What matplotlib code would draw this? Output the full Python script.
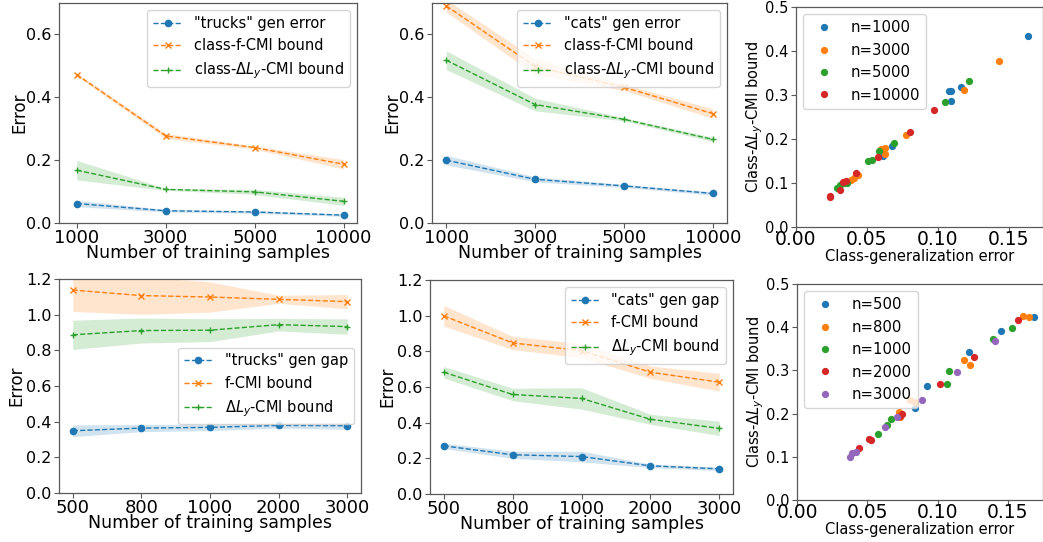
import matplotlib.pyplot as plt
import numpy as np

# top row: class-level results (x = number of training samples)
n_top = [1000, 3000, 5000, 10000]
trucks_err = [0.062, 0.039, 0.035, 0.025]
trucks_err_sd = [0.010, 0.004, 0.004, 0.004]
trucks_fcmi = [0.472, 0.277, 0.240, 0.187]
trucks_fcmi_sd = [0.005, 0.008, 0.005, 0.015]
trucks_dl = [0.168, 0.107, 0.099, 0.069]
trucks_dl_sd = [0.031, 0.003, 0.008, 0.013]

cats_err = [0.200, 0.139, 0.118, 0.094]
cats_err_sd = [0.015, 0.008, 0.005, 0.005]
cats_fcmi = [0.691, 0.498, 0.432, 0.348]
cats_fcmi_sd = [0.020, 0.025, 0.010, 0.015]
cats_dl = [0.518, 0.377, 0.330, 0.266]
cats_dl_sd = [0.030, 0.020, 0.005, 0.007]

# bottom row
n_bot = [500, 800, 1000, 2000, 3000]
trucks_gap = [0.349, 0.364, 0.368, 0.379, 0.377]
trucks_gap_sd = [0.033, 0.020, 0.018, 0.015, 0.020]
trucks_fcmi2 = [1.138, 1.107, 1.099, 1.086, 1.073]
trucks_fcmi2_sd = [0.120, 0.105, 0.085, 0.023, 0.040]
trucks_dl2 = [0.887, 0.911, 0.913, 0.944, 0.933]
trucks_dl2_sd = [0.082, 0.070, 0.064, 0.035, 0.043]

cats_gap = [0.270, 0.220, 0.210, 0.158, 0.141]
cats_gap_sd = [0.015, 0.020, 0.030, 0.010, 0.010]
cats_fcmi2 = [0.999, 0.847, 0.804, 0.683, 0.627]
cats_fcmi2_sd = [0.058, 0.037, 0.040, 0.035, 0.050]
cats_dl2 = [0.683, 0.558, 0.536, 0.419, 0.368]
cats_dl2_sd = [0.032, 0.035, 0.060, 0.028, 0.040]

# scatter: (class-generalization error, class-dLy-CMI bound)
sc_top_labels = ['n=1000', 'n=3000', 'n=5000', 'n=10000']
sc_top_x = [
    [0.1637, 0.1094, 0.108, 0.116, 0.109, 0.0673, 0.061, 0.061],
    [0.143, 0.118, 0.0775, 0.0626, 0.063, 0.060, 0.0439, 0.041, 0.0385, 0.036],
    [0.1217, 0.105, 0.0692, 0.0586, 0.0534, 0.0508, 0.036, 0.0307, 0.029, 0.034],
    [0.0971, 0.0803, 0.0581, 0.0425, 0.035, 0.033, 0.0307, 0.0243, 0.024],
]
sc_top_y = [
    [0.435, 0.310, 0.310, 0.318, 0.287, 0.185, 0.167, 0.161],
    [0.378, 0.312, 0.209, 0.180, 0.167, 0.177, 0.118, 0.112, 0.106, 0.103],
    [0.331, 0.283, 0.191, 0.173, 0.152, 0.151, 0.099, 0.095, 0.089, 0.100],
    [0.267, 0.217, 0.158, 0.123, 0.104, 0.103, 0.085, 0.070, 0.068],
]

sc_bot_labels = ['n=500', 'n=800', 'n=1000', 'n=2000', 'n=3000']
sc_bot_x = [
    [0.1685, 0.1448, 0.1227, 0.0926, 0.0836],
    [0.1607, 0.165, 0.1187, 0.1234, 0.0807, 0.0838, 0.0724, 0.0736],
    [0.1531, 0.1393, 0.108, 0.107, 0.0669, 0.064, 0.0574],
    [0.1574, 0.126, 0.1014, 0.0748, 0.0736, 0.0529, 0.0515, 0.044],
    [0.1412, 0.114, 0.089, 0.0712, 0.0629, 0.0422, 0.039, 0.0378],
]
sc_bot_y = [
    [0.424, 0.391, 0.342, 0.264, 0.214],
    [0.427, 0.423, 0.324, 0.313, 0.231, 0.226, 0.204, 0.193],
    [0.397, 0.373, 0.299, 0.268, 0.1875, 0.174, 0.153],
    [0.417, 0.332, 0.268, 0.199, 0.195, 0.140, 0.142, 0.121],
    [0.369, 0.296, 0.231, 0.193, 0.168, 0.112, 0.108, 0.100],
]

W, H = 1043, 542
fig = plt.figure(figsize=(W / 100, H / 100), dpi=100)


def box(x0, y0, x1, y1):
    # pixel box (left, top, right, bottom) -> figure fraction
    return fig.add_axes([x0 / W, 1 - y1 / H, (x1 - x0) / W, (y1 - y0) / H])


def style(ax):
    for s in ax.spines.values():
        s.set_color('0.35')
        s.set_linewidth(0.9)
    ax.tick_params(color='0.35')


def line_panel(ax, ns, series, labels, ylim, xlim, yticks, legend_loc, xpad, ypad):
    x = np.arange(len(ns))
    markers = ['o', 'x', '+']
    colors = ['C0', 'C1', 'C2']
    for (m, sd), lab, mk, c in zip(series, labels, markers, colors):
        m = np.array(m)
        sd = np.array(sd)
        ax.plot(x, m, '--', marker=mk, color=c, lw=1.0, ms=4.5 if mk == 'o' else 5,
                label=lab)
        ax.fill_between(x, m - sd, m + sd, color=c, alpha=0.2, lw=0)
    ax.set_xticks(x)
    ax.set_xticklabels([str(n) for n in ns])
    ax.set_yticks(yticks)
    ax.set_xlim(*xlim)
    ax.set_ylim(*ylim)
    ax.set_xlabel('Number of training samples', fontsize=12.5, labelpad=xpad)
    ax.set_ylabel('Error', fontsize=12, labelpad=ypad)
    ax.tick_params(axis='x', labelsize=13, pad=0.5)
    ax.tick_params(axis='y', labelsize=11.5, pad=2)
    ax.legend(loc=legend_loc, fontsize=10.5)
    style(ax)


def scatter_panel(ax, xs, ys, labels, xlim):
    for i, (sx, sy, lab) in enumerate(zip(xs, ys, labels)):
        ax.plot(sx, sy, 'o', ls='none', ms=4.2, color='C%d' % i, label=lab)
    ax.set_xlim(*xlim)
    ax.set_ylim(0, 0.5)
    ax.set_xticks([0.0, 0.05, 0.10, 0.15])
    ax.set_yticks([0.0, 0.1, 0.2, 0.3, 0.4, 0.5])
    ax.set_xlabel('Class-generalization error', fontsize=10.5, labelpad=0)
    ax.set_ylabel('Class-$\\Delta L_y$-CMI bound', fontsize=10.5, labelpad=0)
    ax.tick_params(axis='x', labelsize=13.5, pad=-1)
    ax.tick_params(axis='y', labelsize=10.5, pad=2)
    ax.legend(loc='upper left', fontsize=10.7, numpoints=1)
    style(ax)


ax1 = box(59, 3, 357, 223)
line_panel(ax1, n_top,
           [(trucks_err, trucks_err_sd), (trucks_fcmi, trucks_fcmi_sd), (trucks_dl, trucks_dl_sd)],
           ['"trucks" gen error', 'class-f-CMI bound', 'class-$\\Delta L_y$-CMI bound'],
           (0, 0.7), (-0.2, 3.15), [0, 0.2, 0.4, 0.6], 'upper right', -1.5, -2)

ax2 = box(432, 3, 727, 223)
line_panel(ax2, n_top,
           [(cats_err, cats_err_sd), (cats_fcmi, cats_fcmi_sd), (cats_dl, cats_dl_sd)],
           ['"cats" gen error', 'class-f-CMI bound', 'class-$\\Delta L_y$-CMI bound'],
           (0, 0.7), (-0.16, 3.16), [0, 0.2, 0.4, 0.6], 'upper right', -1.5, -2)

ax3 = box(796, 7, 1043, 227)
scatter_panel(ax3, sc_top_x, sc_top_y, sc_top_labels, (0, 0.174))

ax4 = box(59, 279, 361, 493)
line_panel(ax4, n_bot,
           [(trucks_gap, trucks_gap_sd), (trucks_fcmi2, trucks_fcmi2_sd), (trucks_dl2, trucks_dl2_sd)],
           ['"trucks" gen gap', 'f-CMI bound', '$\\Delta L_y$-CMI bound'],
           (0, 1.2), (-0.2, 4.2), np.arange(0, 1.21, 0.2), 'center right', -1.5, 0)

ax5 = box(430, 280, 733, 494)
line_panel(ax5, n_bot,
           [(cats_gap, cats_gap_sd), (cats_fcmi2, cats_fcmi2_sd), (cats_dl2, cats_dl2_sd)],
           ['"cats" gen gap', 'f-CMI bound', '$\\Delta L_y$-CMI bound'],
           (0, 1.2), (-0.2, 4.2), np.arange(0, 1.21, 0.2), 'upper right', -1.5, 0)

ax6 = box(797, 284, 1043, 500)
scatter_panel(ax6, sc_bot_x, sc_bot_y, sc_bot_labels, (0, 0.175))

fig.savefig('out.png', dpi=100)
